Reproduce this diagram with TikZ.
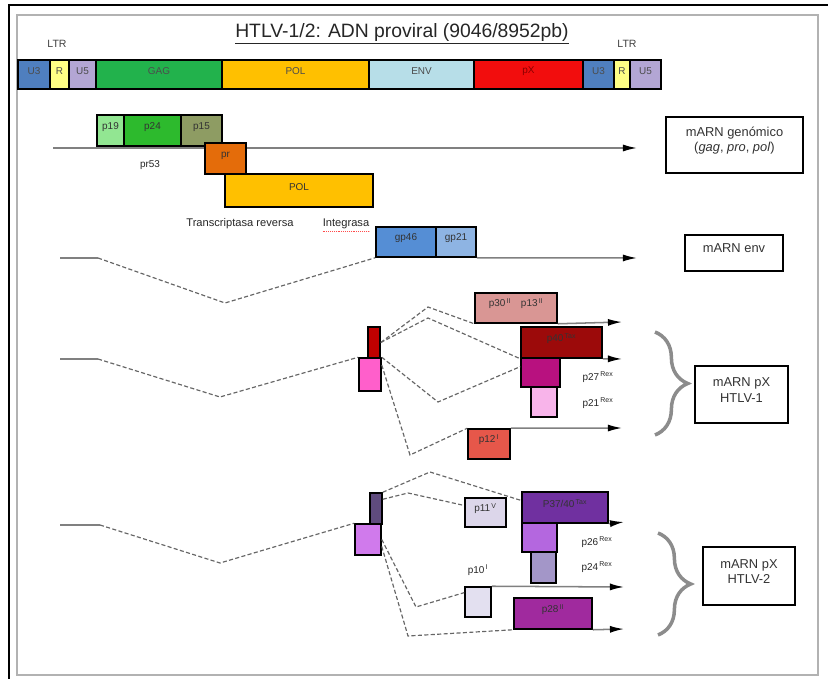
\documentclass[tikz,border=0pt]{standalone}
\usepackage{fontspec}
\setmainfont{Liberation Sans}
\usetikzlibrary{arrows.meta, positioning, fit, decorations.pathreplacing}
\definecolor{u3col}{HTML}{4F7FBF}
\definecolor{rcol}{HTML}{FFFF85}
\definecolor{u5col}{HTML}{B3A6D4}
\definecolor{gagcol}{HTML}{22B24C}
\definecolor{polcol}{HTML}{FFC000}
\definecolor{envcol}{HTML}{B7DEE8}
\definecolor{pxcol}{HTML}{F20D0D}
\definecolor{p19col}{HTML}{92E692}
\definecolor{p24col}{HTML}{2DBA2D}
\definecolor{p15col}{HTML}{8E9C63}
\definecolor{prcol}{HTML}{E46C0A}
\definecolor{gp46col}{HTML}{558ED5}
\definecolor{gp21col}{HTML}{8EB4E3}
\definecolor{p30col}{HTML}{D99694}
\definecolor{taxacol}{HTML}{9C0A0A}
\definecolor{exacol}{HTML}{C00000}
\definecolor{pinkcol}{HTML}{FF5FCB}
\definecolor{rexacol}{HTML}{B8117F}
\definecolor{rexbcol}{HTML}{F8B4EA}
\definecolor{p12col}{HTML}{E6574A}
\definecolor{exbcol}{HTML}{5F4B7E}
\definecolor{lilcol}{HTML}{D07AEC}
\definecolor{p11col}{HTML}{DCD6EA}
\definecolor{taxbcol}{HTML}{7030A0}
\definecolor{rexccol}{HTML}{B467DF}
\definecolor{rexdcol}{HTML}{A396C8}
\definecolor{p10col}{HTML}{E3E0F0}
\definecolor{p28col}{HTML}{A02A9E}
\definecolor{pxtext}{HTML}{8A0000}
\newcommand\mkbox[6][prot]{\node[#1, fill=#3, fit={(#4) (#5)}] (#2) {#6};}
\newcommand\sups[1]{\textsuperscript{\,#1}}

\begin{document}
\begin{tikzpicture}[
  x=0.03cm, y=-0.03cm,
  seg/.style={draw=black, line width=2.2pt, inner sep=0pt,
    font=\fontsize{8.5}{9}\selectfont, text=black!70},
  prot/.style={draw=black, line width=1.3pt, inner sep=0pt,
    font=\fontsize{8.5}{9}\selectfont, text=black!80},
  exon/.style={draw=black!50, line width=1.3pt},
  rna/.style={exon, -{Latex[length=12pt, width=6pt, black]}},
  splice/.style={draw=black!60, line width=1pt, dash pattern=on 3.5pt off 2pt},
  lbl/.style={font=\fontsize{8.5}{9}\selectfont, inner sep=0pt, text=black!85},
  mrna/.style={draw=black, line width=1.4pt, inner sep=0pt, align=center,
    font=\fontsize{11}{13}\selectfont, text=black!80},
  curly/.style={draw=black!45, line width=3pt, decorate,
    decoration={brace, amplitude=28pt}}
]
  \useasboundingbox (0,0) rectangle (828,679);
  % frame
  \draw[line width=2.5pt] (9,679) -- (9,5) -- (828,5);
  \draw[black!30, line width=1.5pt] (17,15) rectangle (818,675);

  \node[font=\fontsize{16.5}{19}\selectfont, text=black!85] (title) at (402,34)
    {\underline{HTLV-1/2: ADN proviral (9046/8952pb)}};
  \node[font=\fontsize{9}{10}\selectfont, text=black!75] (ltrL) at (57,44) {LTR};
  \node[font=\fontsize{9}{10}\selectfont, text=black!75] (ltrR) at (627,44) {LTR};

  % provirus
  \mkbox[seg]{u3a}{u3col}{18,60}{50,89}{U3}
  \mkbox[seg]{ra}{rcol}{50,60}{69,89}{R}
  \mkbox[seg]{u5a}{u5col}{69,60}{96,89}{U5}
  \mkbox[seg]{gag}{gagcol}{96,60}{222,89}{GAG}
  \mkbox[seg]{polg}{polcol}{222,60}{369,89}{POL}
  \mkbox[seg]{env}{envcol}{369,60}{474,89}{ENV}
  \mkbox[seg]{px}{pxcol}{474,60}{583,89}{\textcolor{pxtext}{pX}}
  \mkbox[seg]{u3b}{u3col}{583,60}{614,89}{U3}
  \mkbox[seg]{rb}{rcol}{614,60}{630,89}{R}
  \mkbox[seg]{u5b}{u5col}{630,60}{661,89}{U5}

  % genomic mRNA
  \coordinate (g0) at (53,148);
  \coordinate (g1) at (637,148);
  \draw[rna] (g0) -- (g1);
  \mkbox{p19}{p19col}{97,115}{124,146}{p19}
  \mkbox{p24}{p24col}{124,115}{181,146}{p24}
  \mkbox{p15}{p15col}{181,115}{222,146}{p15}
  \node[lbl] (pr53) at (150,165) {pr53};
  \mkbox{pr}{prcol}{205,143}{246,174}{pr}
  \mkbox{pol}{polcol}{225,174}{373,207}{POL}
  \node[lbl, font=\fontsize{9.5}{10}\selectfont] (rt) at (240,224) {Transcriptasa reversa};
  \node[lbl, font=\fontsize{9.5}{10}\selectfont] (int) at (346,224) {Integrasa};
  \draw[red!70, densely dotted, line width=0.6pt]
    ([yshift=-1.5pt]int.south west) -- ([yshift=-1.5pt]int.south east);
  \mkbox[mrna]{mgen}{white}{666,117}{803,173}
    {mARN genómico\\(\textit{gag}, \textit{pro}, \textit{pol})}

  % env mRNA
  \coordinate (e0) at (60,258);
  \coordinate (e1) at (98,258);
  \coordinate (e2) at (225,303);
  \coordinate (e3) at (637,258);
  \mkbox{gp46}{gp46col}{376,227}{436,257}{gp46}
  \mkbox{gp21}{gp21col}{436,227}{476,257}{gp21}
  \draw[exon] (e0) -- (e1);
  \draw[splice] (e1) -- (e2) -- (gp46.south west);
  \draw[rna] (gp21.south east) -- (e3);
  \mkbox[mrna]{menv}{white}{685,235}{783,271}{mARN env}

  % pX HTLV-1
  \coordinate (a0) at (60,359);
  \coordinate (a1) at (98,359);
  \coordinate (a2) at (220,397);
  \coordinate (ka) at (428,307);
  \coordinate (kb) at (428,318);
  \coordinate (kc) at (438,402);
  \coordinate (kd) at (410,455);
  \mkbox{exa}{exacol}{368,327}{380,358}{}
  \mkbox{pka}{pinkcol}{359,358}{381,391}{}
  \mkbox{p30}{p30col}{475,293}{557,323}{p30\sups{II}\quad p13\sups{II}}
  \mkbox{taxa}{taxacol}{521,327}{602,358}{p40\sups{Tax}}
  \mkbox{rexa}{rexacol}{521,358}{560,387}{}
  \mkbox{rexb}{rexbcol}{531,387}{557,417}{}
  \mkbox{p12}{p12col}{468,429}{510,459}{p12\sups{I}}
  \node[lbl] (l27) at (598,377) {p27\sups{Rex}};
  \node[lbl] (l21) at (598,403) {p21\sups{Rex}};
  \draw[exon] (a0) -- (a1);
  \draw[splice] (a1) -- (a2) -- (pka.north west);
  \draw[splice] (exa.east) -- (ka) -- (p30.south west);
  \draw[splice] (exa.east) -- (kb) -- (taxa.south west);
  \draw[splice] (pka.north east) -- (kc) -- ([yshift=5pt]rexa.west);
  \draw[splice] ([yshift=8pt]pka.east) -- (kd) -- (p12.north west);
  \draw[rna] (p30.south east) -- (622,322);
  \draw[rna] (taxa.south east) -- (622,359);
  \draw[rna] (p12.north east) -- (622,428);
  \draw[curly] (655,332) -- (655,435);
  \mkbox[mrna]{mxa}{white}{695,366}{788,423}{mARN pX\\HTLV-1}

  % pX HTLV-2
  \coordinate (b0) at (60,525);
  \coordinate (b1) at (100,525);
  \coordinate (b2) at (220,563);
  \coordinate (kf) at (430,472);
  \coordinate (kg) at (408,493);
  \coordinate (kh) at (416,607);
  \coordinate (ki) at (408,636);
  \mkbox{exb}{exbcol}{370,493}{382,524}{}
  \mkbox{lil}{lilcol}{355,524}{381,555}{}
  \mkbox{p11}{p11col}{465,498}{506,527}{p11\sups{V}}
  \mkbox{taxb}{taxbcol}{522,492}{608,523}{P37/40\sups{Tax}}
  \mkbox{rexc}{rexccol}{522,523}{557,552}{}
  \mkbox{rexd}{rexdcol}{531,552}{556,583}{}
  \mkbox{p10}{p10col}{465,587}{491,617}{}
  \mkbox{p28}{p28col}{514,598}{592,629}{p28\sups{II}}
  \node[lbl] (l10) at (478,570) {p10\sups{I}};
  \node[lbl] (l26) at (597,542) {p26\sups{Rex}};
  \node[lbl] (l24) at (597,567) {p24\sups{Rex}};
  \draw[exon] (b0) -- (b1);
  \draw[splice] (b1) -- (b2) -- (lil.north west);
  \draw[splice] (exb.north east) -- (kf) -- ([yshift=6pt]taxb.west);
  \draw[splice] ([yshift=-6pt]exb.north east) -- (kg) -- ([yshift=6pt]p11.west);
  \draw[splice] (lil.east) -- (kh) -- ([yshift=8pt]p10.west);
  \draw[splice] ([yshift=-6pt]lil.east) -- (ki) -- (p28.south west);
  \draw[rna] (taxb.south east) -- (624,522);
  \draw[rna] (p10.north east) -- (624,587);
  \draw[rna] (p28.south east) -- (624,629);
  \draw[curly] (658,533) -- (658,635);
  \mkbox[mrna]{mxb}{white}{703,547}{795,605}{mARN pX\\HTLV-2}
\end{tikzpicture}
\end{document}
